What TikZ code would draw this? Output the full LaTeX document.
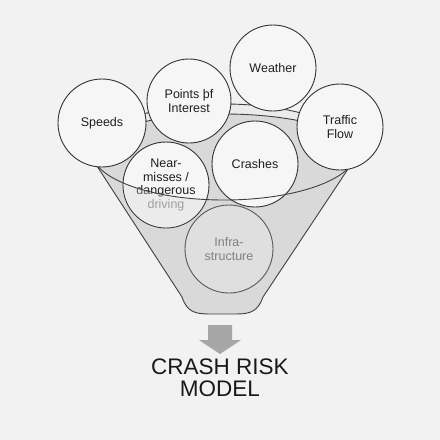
\documentclass[tikz,border=0pt]{standalone}
\usepackage{fontspec}
\setmainfont{Liberation Sans}
\begin{document}
\begin{tikzpicture}[x=1pt,y=-1pt,
  bubble/.style={circle,draw=black!80,line width=0.9pt,fill=bubblefill,minimum size=86pt,inner sep=0pt,align=center,font=\fontsize{12.5}{13.5}\selectfont,text=black!88},
  fadedbubble/.style={bubble,draw=black!65,fill=funnelfill!85!white,text=black!50},
  rimline/.style={draw=black!75,line width=0.9pt},
  ]
\definecolor{bgfill}{HTML}{F2F2F2}
\definecolor{bubblefill}{HTML}{F6F6F6}
\definecolor{funnelfill}{HTML}{D9D9D9}
\definecolor{bandfill}{HTML}{EBEBEB}
\definecolor{arrowfill}{HTML}{A6A6A6}
\useasboundingbox (0,0) rectangle (440,440);
\fill[bgfill] (0,0) rectangle (440,440);
% funnel body
\coordinate (rimL) at (92,152);
\coordinate (tanL) at (95,163);
\coordinate (tanR) at (352,163);
\coordinate (botL) at (182,297);
\coordinate (botR) at (263,297);
\fill[funnelfill] (tanL) -- (botL) .. controls (187,312) and (195,314) .. (210,314) -- (236,314) .. controls (251,314) and (258,311) .. (botR) -- (tanR) -- cycle;
\fill[funnelfill] (224,152) ellipse [x radius=132pt, y radius=48pt];
% back band of the rim
\fill[bandfill] (rimL) arc[start angle=180, end angle=0, x radius=132pt, y radius=48pt]
   arc[start angle=0, end angle=180, x radius=132pt, y radius=38pt] -- cycle;
\draw[rimline] (rimL) arc[start angle=180, end angle=0, x radius=132pt, y radius=38pt];
\draw[rimline] (rimL) arc[start angle=180, end angle=0, x radius=132pt, y radius=48pt];
% funnel sides and bottom
\draw[rimline] (tanL) -- (botL) .. controls (187,312) and (195,314) .. (210,314) -- (236,314) .. controls (251,314) and (258,311) .. (botR) -- (tanR);
% bubbles
\node[bubble,minimum size=84pt] (poi) at (189,101) {Points þf\\Interest};
\node[bubble] (weather) at (273,68) {Weather};
\node[bubble] (crashes) at (255,164) {Crashes};
\node[bubble] (near) at (166,185) {Near-\\misses /\\dangerous\\\textcolor{black!50}{driving}};
\node[fadedbubble,minimum size=88pt] (infra) at (229,249) {Infra-\\structure};
% part of near-misses inside funnel
\begin{scope}
\clip (near.center) circle[radius=42.5pt];
\fill[funnelfill,opacity=0.35,even odd rule] (100,140) rectangle (240,240) (224,152) ellipse [x radius=132pt, y radius=48pt];
\end{scope}
% front rim edge
\draw[rimline] (rimL) arc[start angle=180, end angle=360, x radius=132pt, y radius=48pt];
\node[bubble,minimum size=88pt] (speeds) at (102,123) {Speeds};
\node[bubble] (traffic) at (340,127) {Traffic\\Flow};
% arrow
\fill[arrowfill] (208,325) -- (232,325) -- (232,340) -- (241,340) -- (220,354) -- (199,340) -- (208,340) -- cycle;
\node[align=center,font=\fontsize{22.5}{22}\selectfont,text=black!90] (model) at (220,377.5) {CRASH RISK\\MODEL};
\end{tikzpicture}
\end{document}
